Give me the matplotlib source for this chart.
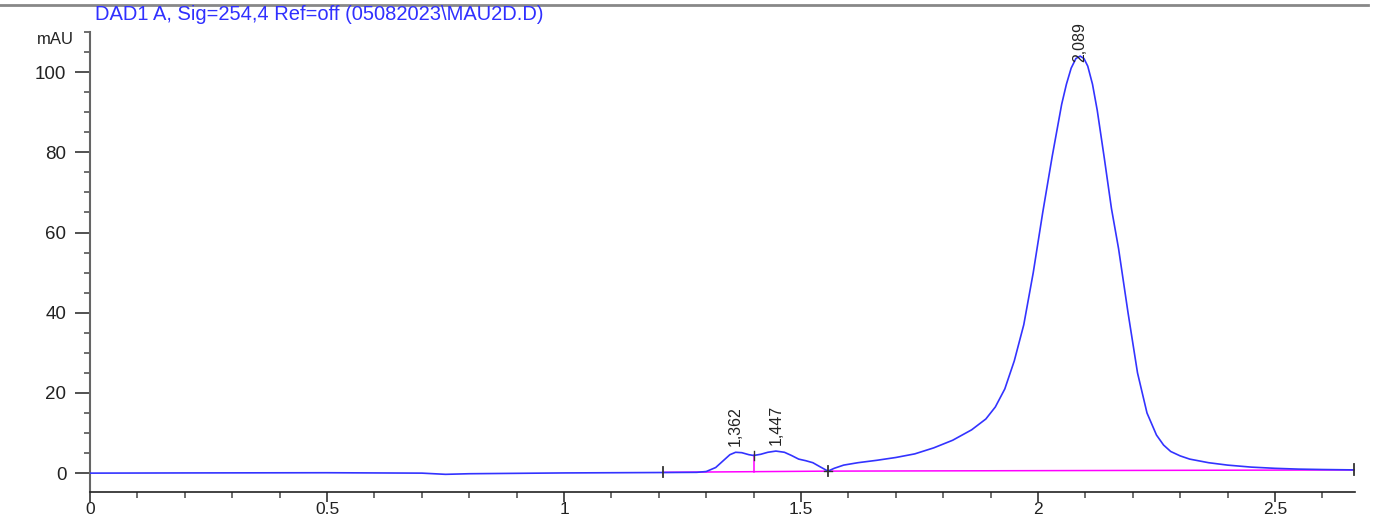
#!/usr/bin/env python3
"""Chromatogram trace for DAD1 A, 254 nm, with integration baseline and peak labels."""

import matplotlib
matplotlib.use("Agg")
import matplotlib.pyplot as plt
from matplotlib.ticker import MultipleLocator
from matplotlib.lines import Line2D

# retention time (min) and absorbance (mAU)
time_min = [
    0.0, 0.2, 0.5, 0.7, 0.75, 0.8, 1.0, 1.2, 1.28, 1.30, 1.32, 1.335, 1.35,
    1.362, 1.375, 1.39, 1.40, 1.415, 1.43, 1.447, 1.465, 1.48, 1.495, 1.51,
    1.525, 1.54, 1.557, 1.57, 1.59, 1.62, 1.66, 1.70, 1.74, 1.78, 1.82, 1.86,
    1.89, 1.91, 1.93, 1.95, 1.97, 1.99, 2.01, 2.03, 2.05, 2.06, 2.07, 2.08,
    2.089, 2.097, 2.105, 2.115, 2.125, 2.14, 2.155, 2.17, 2.19, 2.21, 2.23,
    2.25, 2.265, 2.28, 2.30, 2.32, 2.36, 2.40, 2.45, 2.50, 2.55, 2.60, 2.67,
]
signal_mau = [
    0.0, 0.05, 0.1, 0.0, -0.3, -0.15, 0.05, 0.15, 0.2, 0.4, 1.4, 3.0, 4.6,
    5.2, 5.1, 4.6, 4.4, 4.7, 5.2, 5.5, 5.2, 4.4, 3.5, 3.1,
    2.6, 1.6, 0.5, 1.2, 2.0, 2.6, 3.2, 3.9, 4.8, 6.3, 8.2, 10.8,
    13.5, 16.5, 21.0, 28.0, 37.0, 50.0, 65.0, 79.0, 92.0, 97.0, 101.0, 103.4,
    104.0, 103.4, 101.5, 97.0, 90.5, 78.5, 66.0, 56.0, 40.0, 25.0, 15.0,
    9.5, 7.0, 5.4, 4.3, 3.5, 2.6, 2.0, 1.5, 1.2, 1.0, 0.9, 0.8,
]

# integration baseline points and the drop line between the first two peaks
baseline_t = [1.209, 1.557, 2.667]
baseline_y = [0.2, 0.5, 0.8]
drop_t = 1.40
drop_top = 4.4

# peak retention-time labels
peak_t = [1.362, 1.447, 2.089]
peak_y = [5.2, 5.5, 104.0]
peak_text = ["1,362", "1,447", "2,089"]

plt.rcParams["font.family"] = ["Liberation Sans", "DejaVu Sans"]

fig = plt.figure(figsize=(13.75, 5.17), dpi=100)
ax = fig.add_axes([0.0655, 0.0484, 0.92, 0.8896])

ax.plot(time_min, signal_mau, color="#3333ff", linewidth=1.2, zorder=3)
ax.plot(baseline_t, baseline_y, color="#ff00ff", linewidth=1.1, zorder=2)

base_at_drop = baseline_y[0] + (baseline_y[1] - baseline_y[0]) * (
    (drop_t - baseline_t[0]) / (baseline_t[1] - baseline_t[0])
)
ax.plot([drop_t, drop_t], [base_at_drop, drop_top], color="#ff00ff", linewidth=1.1, zorder=2)

# short black markers at the integration events
for t, y in zip(baseline_t, baseline_y):
    ax.plot([t, t], [y - 1.2, y + 1.4], color="#333333", linewidth=1.3, zorder=4)
ax.plot([drop_t, drop_t], [drop_top - 1.2, drop_top + 1.2], color="#333333", linewidth=1.0, zorder=4)
ax.plot([baseline_t[1] - 0.008, baseline_t[1] + 0.008], [baseline_y[1], baseline_y[1]],
        color="#333333", linewidth=1.0, zorder=4)

for t, y, s in zip(peak_t, peak_y, peak_text):
    off = 1.6 if y < 50 else -1.5
    ax.text(t, y + off, s, rotation=90, ha="center", va="bottom", fontsize=11.5,
            color="#222222", zorder=5)

ax.set_xlim(0, 2.669)
ax.set_ylim(-4.7, 110)

ax.xaxis.set_major_locator(MultipleLocator(0.5))
ax.xaxis.set_minor_locator(MultipleLocator(0.1))
ax.yaxis.set_major_locator(MultipleLocator(20))
ax.yaxis.set_minor_locator(MultipleLocator(5))
ax.set_xticks([0, 0.5, 1, 1.5, 2, 2.5])
ax.set_xticklabels(["0", "0.5", "1", "1.5", "2", "2.5"])

ax.tick_params(axis="both", which="major", direction="out", width=1.2,
               colors="#333333", labelcolor="#222222")
ax.tick_params(axis="both", which="minor", direction="out", length=4, width=1.2,
               colors="#555555")
ax.tick_params(axis="x", which="major", length=7, pad=0, labelsize=12.5)
ax.tick_params(axis="y", which="major", length=11, pad=6, labelsize=13.5)

for side in ("top", "right"):
    ax.spines[side].set_visible(False)
ax.spines["left"].set_color("#666666")
ax.spines["left"].set_linewidth(1.5)
ax.spines["bottom"].set_color("#222222")
ax.spines["bottom"].set_linewidth(1.2)

ax.text(-0.013, 1.0, "mAU", transform=ax.transAxes, ha="right", va="top",
        fontsize=12, color="#222222")

fig.add_artist(Line2D([0.0, 0.995], [0.990, 0.990], color="#888888", linewidth=2.0))
fig.text(0.069, 0.972, "DAD1 A, Sig=254,4 Ref=off (05082023\\MAU2D.D)",
         color="#3030ff", fontsize=14.5, ha="left", va="center")

fig.savefig("out.png", dpi=100)
